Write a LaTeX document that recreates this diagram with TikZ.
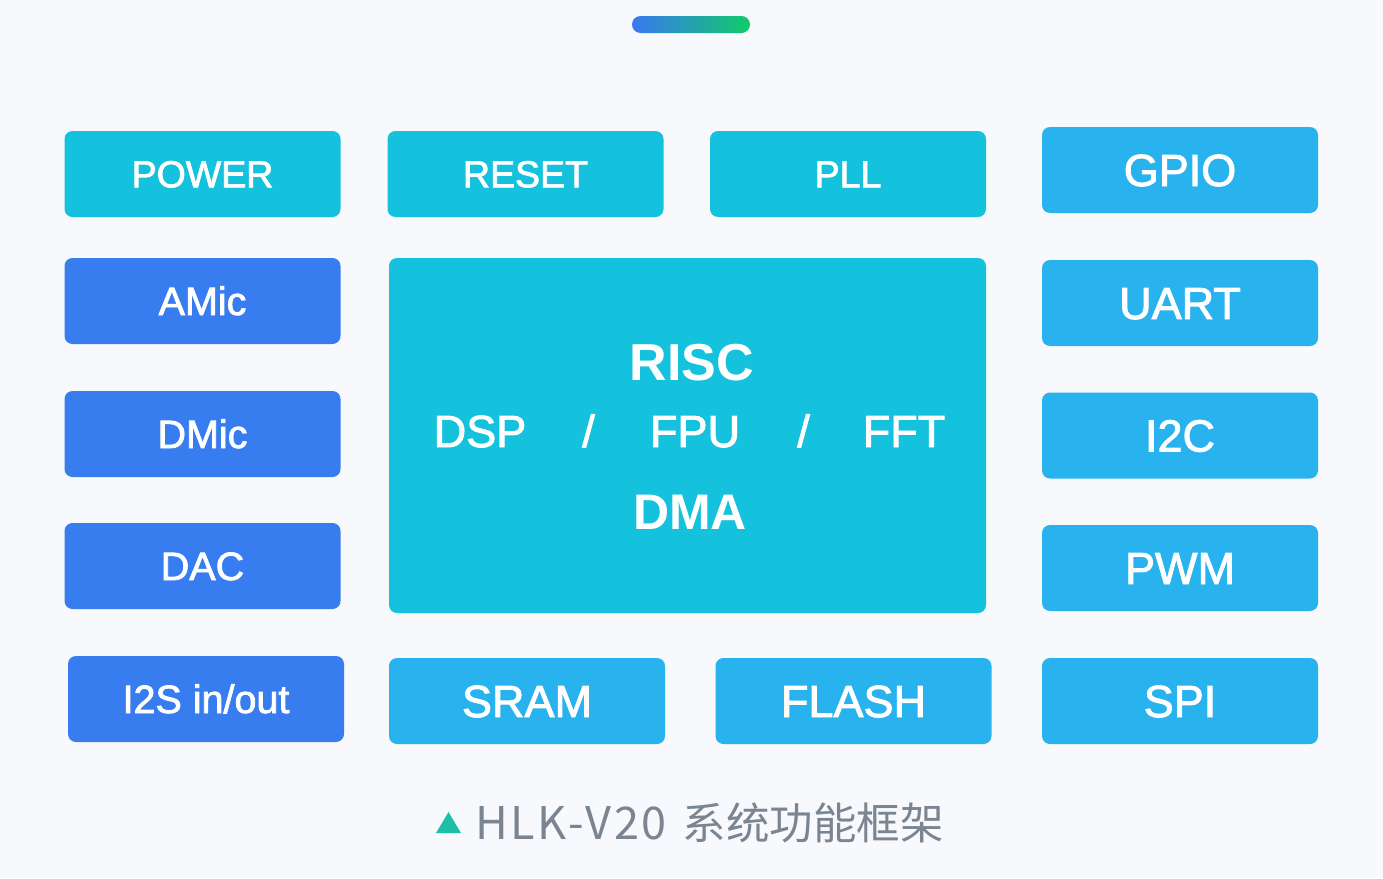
\documentclass[tikz,border=0pt]{standalone}
\usepackage{fontspec}
\setmainfont{Liberation Sans}
\newfontfamily\medf{Liberation Sans}[FakeBold=2]
\newfontfamily\cjk{Noto Sans CJK SC}
\newfontfamily\cjklat{Noto Sans CJK SC}[LetterSpace=6]
\definecolor{bgc}{HTML}{F7F9FC}
\definecolor{tealc}{HTML}{15C2DD}
\definecolor{bluec}{HTML}{387DF0}
\definecolor{skyc}{HTML}{28B3EE}
\definecolor{grayc}{HTML}{7A8591}
\definecolor{tric}{HTML}{1DBFA6}
\definecolor{gblue}{HTML}{3A78F2}
\definecolor{ggreen}{HTML}{10CB68}
\tikzset{
  blk/.style={rounded corners=8pt, inner sep=0pt, text=white, minimum width=276pt, minimum height=86pt, text depth=0pt},
  smallt/.style={font=\medf\fontsize{37.5}{40}\selectfont, text height=26.5pt},
  midt/.style={font=\medf\fontsize{39.5}{42}\selectfont, text height=28pt},
  bigt/.style={font=\medf\fontsize{45}{48}\selectfont, text height=32pt},
  ctext/.style={text=white, inner sep=0pt, text depth=0pt},
}
\begin{document}
\begin{tikzpicture}[x=1pt,y=-1pt]
\fill[bgc] (0,0) rectangle (1383,878);
\useasboundingbox (0,0) rectangle (1383,878);
% gradient bar
\shade[left color=gblue, right color=ggreen, middle color=gblue!50!ggreen, rounded corners=8.5pt] (632,16) rectangle (750,33);
% top row
\node[blk, smallt, fill=tealc] (power) at (202.5,174) {POWER};
\node[blk, smallt, fill=tealc] (reset) at (525.5,174) {RESET};
\node[blk, smallt, fill=tealc] (pll) at (848,174) {PLL};
\node[blk, bigt, fill=skyc] (gpio) at (1180,170) {GPIO};
% left column
\node[blk, midt, fill=bluec] (amic) at (202.5,301) {AMic};
\node[blk, midt, fill=bluec] (dmic) at (202.5,434) {DMic};
\node[blk, midt, fill=bluec] (dac) at (202.5,566) {DAC};
\node[blk, midt, fill=bluec] (i2s) at (206,699) {I2S in/out};
% right column
\node[blk, bigt, fill=skyc] (uart) at (1180,303) {UART};
\node[blk, bigt, fill=skyc] (i2c) at (1180,435.5) {I2C};
\node[blk, bigt, fill=skyc] (pwm) at (1180,568) {PWM};
\node[blk, bigt, fill=skyc] (spi) at (1180,701) {SPI};
% bottom row
\node[blk, bigt, fill=skyc] (sram) at (527,701) {SRAM};
\node[blk, bigt, fill=skyc] (flash) at (853.5,701) {FLASH};
% center
\node[rounded corners=8pt, fill=tealc, minimum width=597pt, minimum height=355pt, inner sep=0pt] (core) at (687.5,435.5) {};
\node[ctext, font=\fontsize{52}{56}\selectfont\bfseries, text height=37pt] (risc) at (692,362) {RISC};
\node[ctext, font=\medf\fontsize{45}{50}\selectfont, text height=32pt] (dsp) at (480,431) {DSP};
\node[ctext, font=\medf\fontsize{45}{50}\selectfont, text height=32pt] (s1) at (588.5,431) {/};
\node[ctext, font=\medf\fontsize{45}{50}\selectfont, text height=32pt] (fpu) at (695,431) {FPU};
\node[ctext, font=\medf\fontsize{45}{50}\selectfont, text height=32pt] (s2) at (803.5,431) {/};
\node[ctext, font=\medf\fontsize{45}{50}\selectfont, text height=32pt] (fft) at (904,431) {FFT};
\node[ctext, font=\fontsize{50}{54}\selectfont\bfseries, text height=36pt] (dma) at (690,511) {DMA};
% caption
\fill[tric] (436,833) -- (448.5,812) -- (461,833) -- cycle;
\node[anchor=west, inner sep=0pt, text=grayc] (cap) at (475,823) {{\cjklat\fontsize{45}{48}\selectfont HLK-V20}\hspace{16pt}{\cjk\fontsize{43.5}{46}\selectfont 系统功能框架}};
\end{tikzpicture}
\end{document}
